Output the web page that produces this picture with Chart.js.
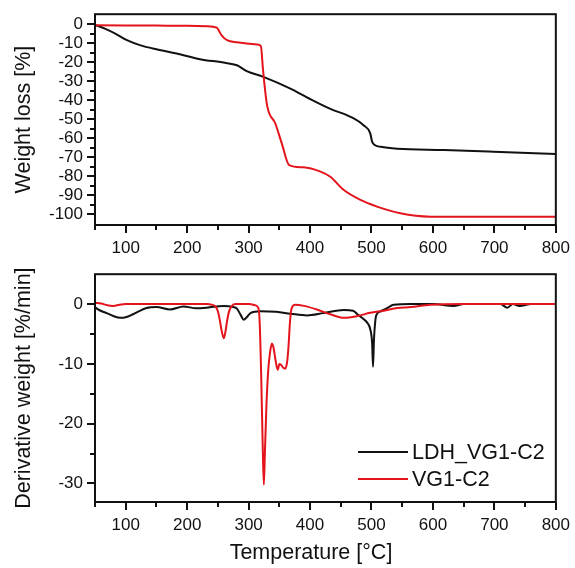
<!DOCTYPE html>
<html>
<head>
<meta charset="utf-8">
<script src="https://cdn.jsdelivr.net/npm/chart.js@4.4.0/dist/chart.umd.min.js"></script>
<style>
    html, body { margin: 0; padding: 0; background: #fff; }
    #wrap { position: relative; width: 575px; height: 568px; }
    #tgChart { position: absolute; left: 0; top: 0; }
    #dtgChart { position: absolute; left: 0; top: 260px; }
</style>
</head>
<body>
<div id="wrap">
    <canvas id="tgChart" width="575" height="260"></canvas>
    <canvas id="dtgChart" width="575" height="308"></canvas>
</div>
<script>
// series names
const seriesNames = ['LDH_VG1-C2', 'VG1-C2'];

// TG: weight loss [%] vs temperature [°C]
const ldhTgTemp = [50, 66, 83, 102, 123, 150, 183, 221, 259, 281, 297, 324, 368, 400, 433, 466, 487, 498, 501, 506, 515, 542, 618, 699, 800];
const ldhTgLoss = [-0.3, -2.3, -4.9, -8.4, -11, -13.2, -15.4, -18.4, -20.2, -21.6, -24.7, -27.7, -33.9, -39.4, -44.6, -48.8, -53.2, -57.5, -61.9, -63.8, -64.6, -65.6, -66.3, -67.2, -68.4];

const vgTgTemp = [50, 100, 150, 200, 232, 248, 256, 265, 281, 314, 320, 323.5, 330, 343.5, 354, 366, 389, 417, 433, 455, 482, 509, 547, 596, 650, 800];
const vgTgLoss = [-0.5, -0.6, -0.7, -0.8, -1, -1.8, -5.8, -8.4, -9.5, -10.7, -11.6, -24.2, -42.6, -52.3, -62.8, -74.2, -75.4, -77.7, -80.4, -87.4, -92.6, -96.1, -99.6, -101.4, -101.5, -101.5];

// DTG: derivative weight [%/min] vs temperature [°C]
const ldhDtgTemp = [50, 53, 61, 69, 80, 91, 100, 112, 134, 150, 172, 194, 215, 232, 259, 275, 281, 287, 292, 297, 303, 319, 345, 368, 395, 422, 455, 470, 477, 487, 493, 498, 501, 502.5, 504, 506, 508, 515, 526, 536, 564, 600, 634, 650, 710, 721, 730, 741, 760, 800];
const ldhDtgRate = [-0.5, -0.75, -1.2, -1.5, -2.0, -2.3, -2.2, -1.7, -0.65, -0.5, -0.9, -0.4, -0.7, -0.6, -0.3, -0.5, -0.75, -1.8, -2.6, -2.2, -1.5, -1.2, -1.3, -1.6, -1.9, -1.5, -1.0, -1.1, -1.7, -2.5, -3.1, -4.2, -6.5, -10.5, -6, -3, -1.8, -1.2, -0.65, -0.1, 0, 0, -0.3, 0, 0, -0.6, 0, -0.3, 0, 0];

const vgDtgTemp = [50, 60, 70, 80, 90, 100, 150, 200, 232, 240, 246, 250, 253, 256, 259.5, 262, 265, 268, 272, 278, 300, 311, 316, 318, 320.5, 323, 324.8, 326.5, 329, 332, 335, 338, 341, 344, 347.5, 350, 353, 356, 359.5, 362.5, 365, 367, 369, 372, 376, 390, 411, 433, 455, 477, 498, 520, 542, 564, 596, 650, 800];
const vgDtgRate = [0.2, 0.1, -0.2, -0.3, -0.1, 0, 0, 0, 0, -0.1, -0.4, -1.2, -2.6, -4.4, -5.7, -4.8, -2.8, -1.3, -0.4, 0, 0, -0.2, -0.7, -3, -12, -24, -30.2, -25, -17, -11, -8, -6.6, -7.5, -9.5, -11, -10, -10.2, -10.6, -10.8, -9.8, -7, -3.5, -1.2, -0.3, -0.1, -0.3, -0.9, -1.7, -2.3, -2.0, -1.45, -1.1, -0.65, -0.5, -0.1, 0, 0];

// axis ticks
const xTicks = [100, 200, 300, 400, 500, 600, 700, 800];
const xMinorTicks = [50, 150, 250, 350, 450, 550, 650, 750];
const tgTicks = [0, -10, -20, -30, -40, -50, -60, -70, -80, -90, -100];
const tgMinorTicks = [-5, -15, -25, -35, -45, -55, -65, -75, -85, -95];
const dtgTicks = [0, -10, -20, -30];
const dtgMinorTicks = [-5, -15, -25];

const colors = ['#111111', '#e3141b'];
const FONT = "'Liberation Sans', Arial, sans-serif";

function toPoints(xs, ys) {
    return xs.map((x, i) => ({ x: x, y: ys[i] }));
}

// box round the plot + outward ticks (major and minor)
function frameTicks(yMinor) {
    return {
        id: 'frameTicks',
        afterDraw(chart) {
            const { ctx, chartArea: a, scales } = chart;
            ctx.save();
            ctx.strokeStyle = '#111';
            ctx.lineWidth = 2;
            ctx.strokeRect(a.left, a.top, a.right - a.left, a.bottom - a.top);
            ctx.beginPath();
            const tickX = (v, len) => {
                const px = Math.round(scales.x.getPixelForValue(v));
                ctx.moveTo(px, a.bottom);
                ctx.lineTo(px, a.bottom + len);
            };
            const tickY = (v, len) => {
                const py = Math.round(scales.y.getPixelForValue(v));
                ctx.moveTo(a.left, py);
                ctx.lineTo(a.left - len, py);
            };
            xTicks.forEach(v => tickX(v, 8));
            xMinorTicks.forEach(v => tickX(v, 5));
            scales.y.ticks.forEach(t => tickY(t.value, 8));
            yMinor.forEach(v => tickY(v, 5));
            ctx.stroke();
            ctx.restore();
        }
    };
}

// legend inside the lower panel, plus the x title (sits a bit left of centre in the original)
const innerLegend = {
    id: 'innerLegend',
    afterDraw(chart) {
        const ctx = chart.ctx;
        ctx.save();
        ctx.font = '21.5px ' + FONT;
        ctx.textBaseline = 'middle';
        chart.data.datasets.forEach((ds, i) => {
            const y = 192 + i * 27;
            ctx.strokeStyle = ds.borderColor;
            ctx.lineWidth = 2;
            ctx.beginPath();
            ctx.moveTo(358, y);
            ctx.lineTo(408, y);
            ctx.stroke();
            ctx.fillStyle = '#111';
            ctx.fillText(ds.label, 412, y + 1);
        });
        ctx.textAlign = 'center';
        ctx.fillText('Temperature [°C]', 311, 293);
        ctx.restore();
    }
};

function makeScales(yMin, yMax, yTicks, yTitle, xHeight) {
    return {
        x: {
            type: 'linear',
            min: 50,
            max: 800,
            afterBuildTicks: s => { s.ticks = xTicks.map(v => ({ value: v })); },
            afterFit: s => { s.height = xHeight; },
            grid: { display: false, drawTicks: true, tickLength: 8 },
            border: { display: false },
            ticks: { color: '#111', padding: 5, autoSkip: false, maxRotation: 0, font: { family: FONT, size: 17 } }
        },
        y: {
            type: 'linear',
            min: yMin,
            max: yMax,
            afterBuildTicks: s => { s.ticks = yTicks.map(v => ({ value: v })); },
            afterFit: s => { s.width = 95; },
            grid: { display: false, drawTicks: true, tickLength: 8 },
            border: { display: false },
            ticks: { color: '#111', padding: 4, autoSkip: false, font: { family: FONT, size: 17 } },
            title: {
                display: true,
                text: yTitle,
                color: '#111',
                padding: { top: 11, bottom: 0 },
                font: { family: FONT, size: 21.5 }
            }
        }
    };
}

function lineSet(label, pts, color, order) {
    return {
        label: label,
        data: pts,
        borderColor: color,
        borderWidth: 2,
        pointRadius: 0,
        fill: false,
        cubicInterpolationMode: 'monotone',
        order: order
    };
}

new Chart(document.getElementById('tgChart'), {
    type: 'line',
    data: {
        datasets: [
            lineSet(seriesNames[0], toPoints(ldhTgTemp, ldhTgLoss), colors[0], 1),
            lineSet(seriesNames[1], toPoints(vgTgTemp, vgTgLoss), colors[1], 0)
        ]
    },
    options: {
        responsive: false,
        animation: false,
        layout: { padding: { top: 14, right: 19, left: 0, bottom: 0 } },
        plugins: { legend: { display: false }, tooltip: { enabled: false } },
        scales: makeScales(-105.8, 5.3, tgTicks, 'Weight loss [%]', 35)
    },
    plugins: [frameTicks(tgMinorTicks)]
});

new Chart(document.getElementById('dtgChart'), {
    type: 'line',
    data: {
        datasets: [
            lineSet(seriesNames[0], toPoints(ldhDtgTemp, ldhDtgRate), colors[0], 1),
            lineSet(seriesNames[1], toPoints(vgDtgTemp, vgDtgRate), colors[1], 0)
        ]
    },
    options: {
        responsive: false,
        animation: false,
        layout: { padding: { top: 7, right: 19, left: 0, bottom: 0 } },
        plugins: { legend: { display: false }, tooltip: { enabled: false } },
        scales: makeScales(-33.1, 5, dtgTicks, 'Derivative weight [%/min]', 66)
    },
    plugins: [frameTicks(dtgMinorTicks), innerLegend]
});
</script>
</body>
</html>
